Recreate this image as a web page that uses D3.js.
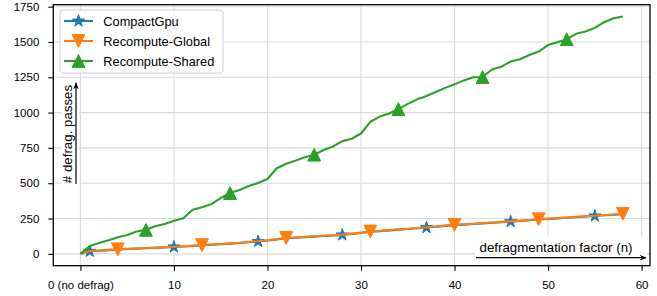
<!DOCTYPE html>
<html>
<head>
<meta charset="utf-8">
<script src="https://cdn.jsdelivr.net/npm/d3@7"></script>
<style>
  body { margin: 0; background: #fff; }
  svg { display: block; font-family: "Liberation Sans", Arial, sans-serif; }
</style>
</head>
<body>
<div id="chart"></div>
<script>
// defragmentation factor n = 0..58
var factors = d3.range(0, 59);

var compactGpu = [0, 18, 22, 26, 30, 34, 37, 40, 43, 46,
  49, 52, 56, 60, 64, 68, 72, 77, 82, 88,
  94, 102, 110, 114, 118, 122, 126, 130, 134, 141,
  148, 156, 161, 166, 171, 176, 181, 186, 192, 198,
  203, 207, 211, 216, 220, 224, 228, 233, 238, 243,
  247, 251, 255, 260, 264, 268, 273, 277, 281];

var recomputeGlobal = [0, 20, 24, 28, 32, 35, 38, 41, 44, 47,
  50, 54, 58, 62, 66, 70, 74, 79, 84, 89,
  96, 104, 112, 116, 120, 124, 128, 132, 136, 143,
  150, 158, 163, 168, 173, 178, 183, 188, 194, 200,
  205, 209, 213, 218, 222, 226, 230, 235, 240, 245,
  249, 253, 257, 262, 266, 270, 275, 279, 283];

var recomputeShared = [0, 55, 76, 96, 118, 134, 158, 170, 195, 212,
  235, 252, 312, 330, 352, 395, 430, 452, 480, 502,
  530, 606, 638, 660, 684, 702, 735, 760, 798, 815,
  852, 935, 972, 994, 1025, 1062, 1094, 1118, 1146, 1175,
  1200, 1228, 1250, 1252, 1305, 1325, 1362, 1378, 1408, 1432,
  1478, 1498, 1520, 1558, 1575, 1600, 1640, 1668, 1680];

var seriesNames = ["CompactGpu", "Recompute-Global", "Recompute-Shared"];
var seriesColors = ["#1f77b4", "#ff7f0e", "#2ca02c"];
var seriesMarkers = ["star", "down", "up"];
var markerStart = [1, 4, 7]; // one marker every 9 points

var xTicks = [0, 10, 20, 30, 40, 50, 60];
var xTickLabels = ["0 (no defrag)", "10", "20", "30", "40", "50", "60"];
var yTicks = [0, 250, 500, 750, 1000, 1250, 1500, 1750];

var W = 657, H = 296;
var plot = { left: 53.3, right: 650, top: 4.7, bottom: 265.7 };

var svg = d3.select("#chart").append("svg")
  .attr("width", W).attr("height", H);

var x = d3.scaleLinear().domain([-2.9, 60.9]).range([plot.left, plot.right]);
var y = d3.scaleLinear().domain([-84, 1764]).range([plot.bottom, plot.top]);

// grid
var grid = svg.append("g").attr("class", "grid");
grid.selectAll(".vg").data(xTicks).enter().append("line")
  .attr("x1", function (d) { return x(d); }).attr("x2", function (d) { return x(d); })
  .attr("y1", plot.top).attr("y2", plot.bottom)
  .attr("stroke", "#dadada").attr("stroke-width", 1.1);
grid.selectAll(".hg").data(yTicks).enter().append("line")
  .attr("y1", function (d) { return y(d); }).attr("y2", function (d) { return y(d); })
  .attr("x1", plot.left).attr("x2", plot.right)
  .attr("stroke", "#dadada").attr("stroke-width", 1.1);

// axes
var xAxis = d3.axisBottom(x).tickValues(xTicks)
  .tickFormat(function (d, i) { return xTickLabels[i]; })
  .tickSize(5).tickPadding(10);
var yAxis = d3.axisLeft(y).tickValues(yTicks).tickFormat(d3.format("d"))
  .tickSize(5).tickPadding(9);

var gx = svg.append("g").attr("transform", "translate(0," + plot.bottom + ")").call(xAxis);
var gy = svg.append("g").attr("transform", "translate(" + plot.left + ",0)").call(yAxis);
[gx, gy].forEach(function (g) {
  g.select(".domain").remove();
  g.selectAll(".tick line").attr("stroke", "#000").attr("stroke-width", 1.1);
  g.selectAll(".tick text").attr("fill", "#000").style("font-size", "11.5px");
});

// series
var line = d3.line()
  .x(function (d) { return x(d[0]); })
  .y(function (d) { return y(d[1]); });

function markerPath(kind) {
  var s = 6.4;
  if (kind === "up") return "M0," + (-s) + "L" + (-s) + "," + s + "L" + s + "," + s + "Z";
  if (kind === "down") return "M0," + s + "L" + (-s) + "," + (-s) + "L" + s + "," + (-s) + "Z";
  var pts = [];
  for (var k = 0; k < 10; k++) {
    var r = k % 2 === 0 ? 6.4 : 6.4 * 0.381966;
    var a = -Math.PI / 2 + k * Math.PI / 5;
    pts.push([r * Math.cos(a), r * Math.sin(a)]);
  }
  return "M" + pts.join("L") + "Z";
}

var allSeries = [compactGpu, recomputeGlobal, recomputeShared];
allSeries.forEach(function (vals, si) {
  var pts = factors.map(function (f, i) { return [f, vals[i]]; });
  var g = svg.append("g");
  g.append("path").datum(pts)
    .attr("d", line)
    .attr("fill", "none")
    .attr("stroke", seriesColors[si])
    .attr("stroke-width", 2.1)
    .attr("stroke-linejoin", "round");
  var marked = pts.filter(function (p, i) { return i >= markerStart[si] && (i - markerStart[si]) % 9 === 0; });
  g.selectAll(".mk").data(marked).enter().append("path")
    .attr("d", markerPath(seriesMarkers[si]))
    .attr("transform", function (d) { return "translate(" + x(d[0]) + "," + y(d[1]) + ")"; })
    .attr("fill", seriesColors[si])
    .attr("stroke", seriesColors[si])
    .attr("stroke-width", 1);
});

// frame
svg.append("rect")
  .attr("x", plot.left).attr("y", plot.top)
  .attr("width", plot.right - plot.left).attr("height", plot.bottom - plot.top)
  .attr("fill", "none").attr("stroke", "#000").attr("stroke-width", 1.3);

// arrow head
svg.append("defs").append("marker")
  .attr("id", "arrow").attr("viewBox", "0 0 10 10")
  .attr("refX", 9).attr("refY", 5)
  .attr("markerWidth", 7).attr("markerHeight", 7)
  .attr("markerUnits", "userSpaceOnUse")
  .attr("orient", "auto")
  .append("path").attr("d", "M0,1L10,5L0,9L3,5Z").attr("fill", "#000");

// y label with arrow
svg.append("rect").attr("x", 61).attr("y", 81).attr("width", 18).attr("height", 106).attr("fill", "#fff");
svg.append("line").attr("x1", 76).attr("x2", 76).attr("y1", 184).attr("y2", 83)
  .attr("stroke", "#000").attr("stroke-width", 1.2).attr("marker-end", "url(#arrow)");
svg.append("text")
  .attr("transform", "translate(71.5,134) rotate(-90)")
  .attr("text-anchor", "middle")
  .style("font-size", "13.3px")
  .text("# defrag. passes");

// x label with arrow
svg.append("rect").attr("x", 475).attr("y", 236).attr("width", 172).attr("height", 26).attr("fill", "#fff");
svg.append("line").attr("x1", 476).attr("x2", 646).attr("y1", 257.7).attr("y2", 257.7)
  .attr("stroke", "#000").attr("stroke-width", 1.2).attr("marker-end", "url(#arrow)");
svg.append("text")
  .attr("x", 556).attr("y", 251.5)
  .attr("text-anchor", "middle")
  .style("font-size", "13.3px")
  .text("defragmentation factor (n)");

// legend
var legend = svg.append("g");
legend.append("rect")
  .attr("x", 60).attr("y", 10).attr("width", 163).attr("height", 63).attr("rx", 3)
  .attr("fill", "#fff").attr("fill-opacity", 0.85)
  .attr("stroke", "#d0d0d0").attr("stroke-width", 1);
seriesNames.forEach(function (name, i) {
  var ly = 21 + i * 20;
  legend.append("line").attr("x1", 64).attr("x2", 93).attr("y1", ly).attr("y2", ly)
    .attr("stroke", seriesColors[i]).attr("stroke-width", 2.1);
  legend.append("path").attr("d", markerPath(seriesMarkers[i]))
    .attr("transform", "translate(78.5," + ly + ")")
    .attr("fill", seriesColors[i]).attr("stroke", seriesColors[i]).attr("stroke-width", 1);
  legend.append("text").attr("x", 103.3).attr("y", ly + 4.5)
    .style("font-size", "12.8px").text(name);
});
</script>
</body>
</html>
